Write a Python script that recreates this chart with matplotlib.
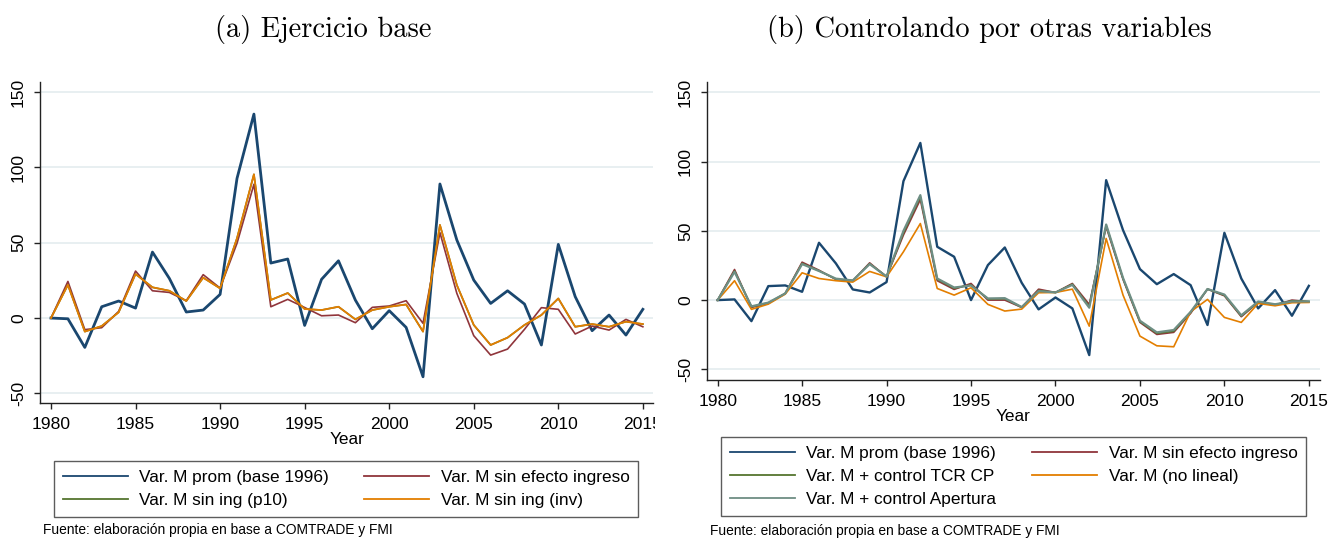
import matplotlib
matplotlib.use("Agg")
import matplotlib.pyplot as plt
from matplotlib.transforms import Bbox, TransformedBbox

years = list(range(1980, 2016))

# Panel (a) Ejercicio base
a_prom = [0, -0.5, -19.5, 7.5, 11.3, 6.6, 43.8, 26.3, 4, 5.3, 15.7,
          92.7, 135.4, 36.5, 39.2, -4.9, 25.7, 38, 11.9, -7.1, 4.9,
          -6.2, -39, 89, 51.8, 25.2, 9.7, 18.1, 9.3, -17.9, 48.9,
          14.2, -8.4, 2, -11.3, 5.8]
a_sin_ingreso = [0, 24.3, -7.7, -6.4, 4.4, 31.2, 18.1, 17, 11.5, 28.8, 19.9,
                 49.6, 88.8, 7.5, 12.4, 7, 1.5, 2, -3.1, 7.1, 8,
                 11.5, -3.5, 56.7, 16.4, -11.7, -24.6, -20.6, -7.5, 6.9, 5.8,
                 -10.6, -5.3, -8, -0.9, -5.8]
a_p10 = [0, 22, -9, -5.3, 3.8, 29.2, 20.4, 18.1, 11.3, 26.8, 19.7,
         53, 95.4, 12, 16.6, 6, 5.3, 7.5, -0.9, 5.3, 7.5,
         9, -9, 61.8, 21.9, -4.6, -17.9, -13, -4.6, 2, 13,
         -5.8, -4, -5.8, -2.4, -4]
a_inv = [0, 22, -9, -5.3, 3.8, 29.2, 20.4, 18.1, 11.3, 26.8, 19.7,
         53, 95.4, 12, 16.6, 6, 5.3, 7.5, -0.9, 5.3, 7.5,
         9, -9, 61.8, 21.9, -4.6, -17.9, -13, -4.6, 2, 13,
         -5.8, -4, -5.8, -2.4, -4]

# Panel (b) Controlando por otras variables
b_prom = [0, 0.5, -15.2, 10.1, 10.6, 6, 41.4, 26.5, 7.7, 5.5, 13,
          85.9, 113.5, 38.5, 31.3, 0, 25.3, 38, 12.5, -6.7, 1.9,
          -6, -39.7, 86.6, 50.5, 22.4, 11.5, 18.8, 10.8, -18, 48.6,
          15.6, -6, 7.2, -11.3, 10.3]
b_sin_ingreso = [0, 22.1, -5.3, -2.4, 4.8, 27.4, 21.6, 14.9, 14, 26.9, 16.8,
                 47, 72.6, 14, 7.7, 12, 0, 0, -5.3, 7.9, 5.5,
                 12, -3.1, 52.9, 14.9, -16.1, -24.8, -23.3, -9.6, 7.9, 3.1,
                 -12, -1.7, -3.6, 0, -1.2]
b_tcr = [0, 21, -4.8, -2, 4.8, 26.5, 21.2, 15.2, 14, 26.3, 17,
         48.5, 74.5, 15, 8.5, 11, 0.8, 1, -5.2, 7, 5.5,
         11.5, -4.5, 54, 15.5, -15.5, -24, -22.5, -9, 8, 3.5,
         -11.5, -1.3, -3.3, -0.5, -1]
b_nolineal = [0, 14, -6.7, -2.9, 4.3, 19.7, 15.6, 14, 13, 20.7, 16.8,
              34.9, 55.3, 8.4, 3.6, 8.9, -3.1, -7.9, -6.5, 5.3, 5.5,
              7.9, -18.8, 44.5, 3.6, -26, -33, -33.7, -8.4, 0.5, -12.5,
              -16.1, -2.4, -4.1, -1.9, -1.7]
b_apertura = [0, 20.4, -4.5, -1.8, 4.8, 26, 21, 15.5, 14.2, 26, 17,
              50, 75.8, 15.6, 9.1, 10.5, 1.2, 1.4, -5, 6.5, 5.5,
              11, -5.5, 54.6, 16, -14.9, -23.3, -21.6, -8.5, 8, 4,
              -11, -1, -3, -1, -1]

xticks = [1980, 1985, 1990, 1995, 2000, 2005, 2010, 2015]
yticks = [-50, 0, 50, 100, 150]

C_BLUE = "#1a476f"
C_RED = "#90353b"
C_GREEN = "#55752f"
C_ORANGE = "#e37e00"
C_TEAL = "#6e8e84"

plt.rcParams["font.family"] = ["Liberation Sans", "DejaVu Sans"]
plt.rcParams["axes.unicode_minus"] = False

W, H = 1330, 540
fig = plt.figure(figsize=(W / 100, H / 100), dpi=100)
fig.patch.set_facecolor("white")


def px_axes(x0, x1, y0, y1):
    return fig.add_axes([x0 / W, 1 - y1 / H, (x1 - x0) / W, (y1 - y0) / H])


def style(ax, xlim, ylim):
    ax.set_xlim(*xlim)
    ax.set_ylim(*ylim)
    ax.set_xticks(xticks)
    ax.set_yticks(yticks)
    ax.grid(axis="y", color="#e6eef0", lw=1.3)
    ax.set_axisbelow(True)
    for s in ["top", "right"]:
        ax.spines[s].set_visible(False)
    for s in ["left", "bottom"]:
        ax.spines[s].set_color("#222222")
        ax.spines[s].set_linewidth(1.0)
    ax.tick_params(axis="both", length=4, width=1, color="#222222",
                   labelsize=12.6, pad=6)
    for lab in ax.get_yticklabels():
        lab.set_rotation(90)
        lab.set_va("center")
    ax.set_xlabel("Year", fontsize=12.4, labelpad=0)


ax1 = px_axes(40, 653, 82, 403)
l_prom, = ax1.plot(years, a_prom, color=C_BLUE, lw=2.0, label="Var. M prom (base 1996)")
l_sin, = ax1.plot(years, a_sin_ingreso, color=C_RED, lw=1.2, label="Var. M sin efecto ingreso")
l_p10, = ax1.plot(years, a_p10, color=C_GREEN, lw=1.2, label="Var. M sin ing (p10)")
l_inv, = ax1.plot(years, a_inv, color=C_ORANGE, lw=1.3, label="Var. M sin ing (inv)")
style(ax1, (1979.35, 2015.6), (-56.4, 156.7))

clipbox = TransformedBbox(Bbox([[0, 0], [655 / W, 1]]), fig.transFigure)
for lab in ax1.get_xticklabels():
    lab.set_clip_box(clipbox)
    lab.set_clip_on(True)

ax2 = px_axes(707, 1320, 82, 380)
m_prom, = ax2.plot(years, b_prom, color=C_BLUE, lw=1.7, label="Var. M prom (base 1996)")
m_sin, = ax2.plot(years, b_sin_ingreso, color=C_RED, lw=1.2, label="Var. M sin efecto ingreso")
m_tcr, = ax2.plot(years, b_tcr, color=C_GREEN, lw=1.2, label="Var. M + control TCR CP")
m_nl, = ax2.plot(years, b_nolineal, color=C_ORANGE, lw=1.2, label="Var. M (no lineal)")
m_ap, = ax2.plot(years, b_apertura, color=C_TEAL, lw=1.6, label="Var. M + control Apertura")
style(ax2, (1979.37, 2015.66), (-57.7, 157.5))

leg_kw = dict(ncol=2, loc="upper left", mode="expand", borderaxespad=0,
              frameon=True, fancybox=False, fontsize=12.4, handlelength=3.8,
              handletextpad=0.65, labelspacing=0.48, borderpad=0.5,
              columnspacing=1.5)

from matplotlib.lines import Line2D
def proxy(line):
    return Line2D([], [], color=line.get_color(), lw=1.3)

leg1_items = [l_prom, l_p10, l_sin, l_inv]
leg1 = fig.legend([proxy(h) for h in leg1_items],
                  [h.get_label() for h in leg1_items],
                  bbox_to_anchor=(54 / W, 1 - 461 / H, (638 - 54) / W, 0.0), **leg_kw)
leg2_items = [m_prom, m_tcr, m_ap, m_sin, m_nl]
leg2 = fig.legend([proxy(h) for h in leg2_items],
                  [h.get_label() for h in leg2_items],
                  bbox_to_anchor=(721 / W, 1 - 437 / H, (1306 - 721) / W, 0.0), **leg_kw)
for leg in (leg1, leg2):
    fr = leg.get_frame()
    fr.set_edgecolor("#333333")
    fr.set_linewidth(1.0)

fig.text(323.5 / W, 1 - 29 / H, "(a) Ejercicio base", ha="center", va="center",
         fontfamily="cmr10", fontsize=20.5)
fig.text(989 / W, 1 - 29 / H, "(b) Controlando por otras variables", ha="center",
         va="center", fontfamily="cmr10", fontsize=20.5)

fig.text(43 / W, 1 - 530 / H, "Fuente: elaboración propia en base a COMTRADE y FMI",
         ha="left", va="center", fontsize=9.9)
fig.text(710 / W, 1 - 531 / H, "Fuente: elaboración propia en base a COMTRADE y FMI",
         ha="left", va="center", fontsize=9.9)

fig.savefig("out.png", dpi=100, facecolor="white")
